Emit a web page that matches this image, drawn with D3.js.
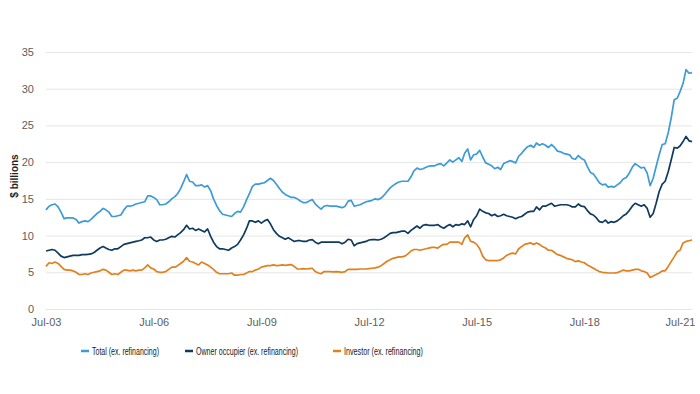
<!DOCTYPE html>
<html>
<head>
<meta charset="utf-8">
<script src="https://cdn.jsdelivr.net/npm/d3@7"></script>
<style>
  body { margin: 0; background: #fff; }
  svg { font-family: 'Liberation Sans', Arial, sans-serif; }
  .tick text { fill: #5e5e5e; font-size: 11px; }
  .tick line { stroke: #e6e6e6; }
  .axis-label { font-size: 10px; font-weight: bold; fill: #222; }
  .legend text { font-size: 10px; fill: #1a1a1a; }
  .line-path { fill: none; stroke-width: 1.7; stroke-linejoin: round; }
</style>
</head>
<body>
<svg width="700" height="394"></svg>
<script>
// monthly values, Jul-03 .. Jul-21 ($ billions)
const startMonth = 'Jul-03';
const endMonth = 'Jul-21';
const tickLabels = ['Jul-03', 'Jul-06', 'Jul-09', 'Jul-12', 'Jul-15', 'Jul-18', 'Jul-21'];
const yTicks = [0, 5, 10, 15, 20, 25, 30, 35];
const seriesNames = ['Total (ex. refinancing)', 'Owner occupier (ex. refinancing)', 'Investor (ex. refinancing)'];
const seriesColors = ['#3d9bd7', '#0f3a5f', '#e0801f'];

const total = [
  13.5, 14.0, 14.2, 14.3, 13.9, 13.2, 12.3, 12.4, 12.4, 12.4, 12.2, 11.7,
  11.9, 12.0, 11.9, 12.2, 12.6, 13.0, 13.3, 13.7, 13.5, 13.2, 12.6, 12.6,
  12.7, 12.8, 13.5, 14.0, 14.0, 14.1, 14.3, 14.4, 14.5, 14.6, 15.4, 15.4,
  15.2, 14.9, 14.2, 14.2, 14.3, 14.6, 15.0,
  15.3, 15.7, 16.4, 17.3, 18.3, 17.4, 17.3, 16.8, 16.8, 16.9, 16.6, 16.8,
  16.1, 15.0, 14.1, 13.4, 12.9, 12.8, 12.7, 12.6, 13.0, 13.3, 13.2, 13.9,
  14.9, 15.7, 16.7, 17.0, 17.0, 17.1, 17.2, 17.5, 17.8, 17.5, 17.0, 16.4,
  15.9, 15.6, 15.4, 15.2, 15.2, 15.0, 14.7, 14.5, 14.5,
  14.7, 14.9, 14.3, 13.9, 13.6, 14.0, 14.1, 14.0, 14.0, 14.0, 13.9, 13.8,
  14.0, 14.7, 14.8, 14.0, 14.1, 14.2, 14.4, 14.6, 14.7, 14.8, 15.0, 14.9,
  15.1, 15.5, 16.0, 16.5, 16.8, 17.1, 17.3, 17.4, 17.4, 17.4, 18.0, 18.8,
  19.2, 19.0, 19.1, 19.3, 19.45, 19.5, 19.5,
  19.7, 19.8, 19.5, 19.9, 20.3, 20.0, 20.3, 20.6, 20.1, 21.2, 21.8, 20.3,
  21.0, 21.1, 21.6, 20.7, 19.9, 19.7, 19.5, 19.1, 19.3, 19.0, 19.8, 20.0,
  20.2, 20.1, 19.9, 20.8, 21.2, 21.7, 22.1, 22.3, 22.0, 22.6, 22.3, 22.5,
  22.3, 22.0, 22.4, 22.0, 21.5, 21.4, 21.2,
  21.1, 21.0, 20.5, 20.4, 20.9, 20.5, 20.3, 19.4, 18.6, 18.4, 17.8, 17.2,
  16.9, 17.0, 16.6, 16.7, 16.6, 16.9, 17.2, 17.7, 17.9, 18.5, 19.3, 19.8,
  19.5, 19.2, 19.3, 18.5, 16.8, 17.8, 19.4, 21.0, 22.4, 22.5, 24.0, 26.0,
  28.5, 28.7, 29.6, 30.7, 32.6, 32.1, 32.2
];

const owner = [
  7.9, 8.0, 8.1, 8.0, 7.6, 7.2, 7.0, 7.1, 7.2, 7.3, 7.3, 7.3,
  7.4, 7.4, 7.45, 7.5, 7.7, 8.0, 8.3, 8.5, 8.3, 8.1, 8.0, 8.2,
  8.2, 8.5, 8.8, 8.9, 9.0, 9.1, 9.2, 9.3, 9.4, 9.7, 9.7, 9.8,
  9.4, 9.2, 9.4, 9.4, 9.5, 9.7, 9.9,
  9.8, 10.1, 10.4, 10.8, 11.4, 10.9, 11.0, 10.7, 10.9, 10.7, 10.5, 10.9,
  9.9, 9.1, 8.5, 8.2, 8.2, 8.1, 8.0, 8.3, 8.5, 8.8, 9.4, 10.1,
  11.0, 12.0, 12.0, 11.8, 12.0, 11.7, 12.0, 12.2, 11.6, 10.8, 10.3, 9.9,
  9.7, 9.5, 9.7, 9.45, 9.2, 9.3, 9.3, 9.2,
  9.2, 9.4, 9.45, 9.1, 8.9, 9.1, 9.1, 9.1, 9.1, 9.1, 9.1, 9.1,
  8.9, 9.1, 9.5, 9.4, 8.6, 8.9, 9.0, 9.1, 9.2, 9.4, 9.45, 9.45,
  9.4, 9.5, 9.7, 10.0, 10.3, 10.4, 10.4, 10.5, 10.6, 10.6, 10.3, 10.7,
  11.0, 11.3, 11.0, 11.4, 11.5, 11.4, 11.4, 11.4,
  11.5, 11.2, 11.0, 11.3, 11.5, 11.2, 11.5, 11.4, 11.6, 11.5, 12.0, 11.2,
  12.2, 12.7, 13.6, 13.3, 13.1, 13.0, 12.7, 12.9, 12.6, 12.7, 12.9, 12.7,
  12.6, 12.5, 12.3, 12.5, 12.6, 12.9, 13.2, 13.3, 13.3, 13.9, 13.5, 14.0,
  14.0, 14.2, 14.4, 14.0, 14.1, 14.2, 14.2,
  14.2, 14.1, 13.9, 13.9, 14.3, 14.0, 13.95, 13.4, 12.95, 12.8, 12.4, 11.9,
  11.8, 12.1, 11.7, 11.9, 11.8, 12.0, 12.3, 12.7, 12.95, 13.4, 14.0, 14.4,
  14.2, 14.0, 14.2, 13.7, 12.5, 13.0, 14.4, 16.0, 17.0, 17.4, 18.7, 20.3,
  22.0, 21.9, 22.2, 22.8, 23.5, 22.9, 22.8
];

const investor = [
  5.8, 6.3, 6.2, 6.4, 6.2, 5.8, 5.4, 5.3, 5.3, 5.2, 5.0, 4.7,
  4.7, 4.8, 4.7, 4.9, 5.0, 5.1, 5.2, 5.4, 5.3, 5.0, 4.7, 4.8,
  4.7, 5.0, 5.3, 5.3, 5.2, 5.3, 5.2, 5.3, 5.3, 5.6, 6.0, 5.6,
  5.45, 5.1, 5.0, 5.0, 5.1, 5.4, 5.7,
  5.7, 5.9, 6.2, 6.5, 7.0, 6.5, 6.4, 6.2, 6.0, 6.4, 6.2, 6.0,
  5.7, 5.4, 5.0, 4.8, 4.8, 4.8, 4.8, 4.9, 4.6, 4.6, 4.7, 4.7,
  4.9, 5.1, 5.1, 5.3, 5.45, 5.7, 5.8, 5.9, 5.9, 6.0, 5.9, 5.95,
  6.0, 5.95, 6.0, 6.05, 5.8, 5.45, 5.45, 5.5,
  5.45, 5.5, 5.55, 5.1, 4.9, 4.8, 5.1, 5.1, 5.1, 5.05, 5.1, 5.05,
  5.0, 5.1, 5.4, 5.4, 5.4, 5.4, 5.45, 5.45, 5.45, 5.5, 5.55, 5.6,
  5.7, 5.9, 6.2, 6.5, 6.7, 6.9, 7.0, 7.1, 7.1, 7.2, 7.5, 7.9,
  8.1, 8.1, 8.0, 8.1, 8.2, 8.3, 8.4, 8.4,
  8.3, 8.6, 8.8, 8.8, 9.1, 9.1, 9.1, 9.1, 8.8, 9.7, 10.1, 9.2,
  9.1, 8.8, 8.2, 7.2, 6.7, 6.6, 6.6, 6.6, 6.6, 6.7, 6.95, 7.3,
  7.5, 7.6, 7.5, 8.2, 8.5, 8.8, 8.9, 9.0, 8.8, 9.0, 8.8, 8.5,
  8.3, 8.0, 8.0, 7.7, 7.4, 7.3, 7.1,
  6.9, 6.8, 6.7, 6.45, 6.55, 6.4, 6.3, 6.0, 5.8, 5.55, 5.3, 5.1,
  5.0, 4.95, 4.9, 4.9, 4.9, 4.95, 5.1, 5.3, 5.2, 5.2, 5.3, 5.4,
  5.4, 5.2, 5.1, 4.9, 4.3, 4.5, 4.7, 4.9, 5.2, 5.2, 5.8, 6.45,
  7.1, 7.8, 8.0, 9.0, 9.2, 9.3, 9.4
];

const svg = d3.select('svg');
const width = +svg.attr('width');
const height = +svg.attr('height');

const parseMonth = d3.timeParse('%b-%y');
const months = d3.timeMonth.range(parseMonth(startMonth), d3.timeMonth.offset(parseMonth(endMonth), 1));
const seriesValues = [total, owner, investor];

const render = () => {
  const margin = { top: 52, right: 8, bottom: 85, left: 46 };
  const innerWidth = width - margin.left - margin.right;
  const innerHeight = height - margin.top - margin.bottom;

  const xScale = d3.scaleTime()
    .domain([parseMonth(startMonth), parseMonth(endMonth)])
    .range([0, innerWidth]);

  const yScale = d3.scaleLinear()
    .domain([0, 35])
    .range([innerHeight, 0]);

  const g = svg.append('g')
    .attr('transform', `translate(${margin.left}, ${margin.top})`);

  const yAxis = d3.axisLeft(yScale)
    .tickValues(yTicks)
    .tickSize(-innerWidth)
    .tickPadding(12);

  const yAxisGroup = g.append('g').call(yAxis);
  yAxisGroup.selectAll('.domain').remove();
  yAxisGroup.selectAll('.tick text').style('font-size', '11px');

  const xAxis = d3.axisBottom(xScale)
    .tickValues(tickLabels.map(parseMonth))
    .tickFormat(d3.timeFormat('%b-%y'))
    .tickSize(0)
    .tickPadding(9);

  const xAxisGroup = g.append('g').call(xAxis)
    .attr('transform', `translate(0, ${innerHeight})`);
  xAxisGroup.selectAll('.domain').remove();
  // last label is pulled in so it stays inside the frame
  xAxisGroup.selectAll('.tick text').filter((d, i, n) => i === n.length - 1)
    .attr('text-anchor', 'end')
    .attr('x', 3);

  svg.append('text')
    .attr('class', 'axis-label')
    .attr('transform', 'rotate(-90)')
    .attr('x', -176)
    .attr('y', 18)
    .attr('text-anchor', 'middle')
    .text('$ billions');

  const lineGenerator = d3.line()
    .x((d, i) => xScale(months[i]))
    .y(d => yScale(d));

  seriesValues.forEach((values, i) => {
    g.append('path')
      .attr('class', 'line-path')
      .attr('stroke', seriesColors[i])
      .attr('d', lineGenerator(values));
  });

  // legend - narrow lettering, squeezed to the widths in the source
  const legendX = [81, 185, 333];
  const legendTextWidth = [67, 102, 79];
  const legend = svg.append('g')
    .attr('class', 'legend')
    .attr('transform', 'translate(0, 351)');

  const items = legend.selectAll('g').data(seriesNames)
    .enter().append('g')
    .attr('transform', (d, i) => `translate(${legendX[i]}, 0)`);

  items.append('line')
    .attr('x1', 0)
    .attr('x2', 8)
    .attr('stroke', (d, i) => seriesColors[i])
    .attr('stroke-width', 2.5);

  items.append('text')
    .attr('x', 11)
    .attr('dy', '0.35em')
    .attr('textLength', (d, i) => legendTextWidth[i])
    .attr('lengthAdjust', 'spacingAndGlyphs')
    .text(d => d);
};

render();
</script>
</body>
</html>
